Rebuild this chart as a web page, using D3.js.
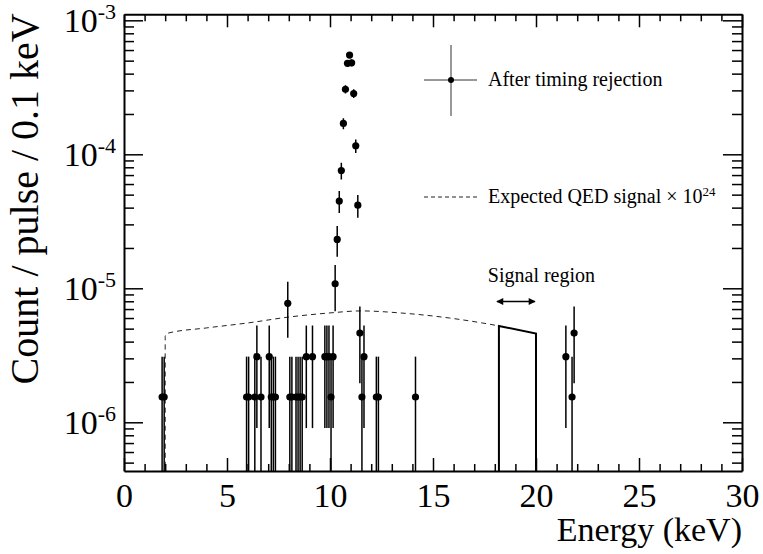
<!DOCTYPE html>
<html>
<head>
<meta charset="utf-8">
<script src="https://cdn.jsdelivr.net/npm/d3@7"></script>
<style>
  body { margin: 0; background: #fff; }
  svg text { font-family: "Liberation Serif", Tinos, "Times New Roman", Times, "DejaVu Serif", serif; fill: #000; }
</style>
</head>
<body>
<svg id="chart"></svg>
<script>
// bin centres in keV (0.1 keV bins) and raw counts per bin
const energy = [1.85, 1.95, 5.95, 6.05, 6.35, 6.45, 6.65, 7.05, 7.15, 7.25, 7.35, 7.95,
                8.05, 8.15, 8.35, 8.45, 8.55, 8.65, 8.85, 9.15, 9.75, 9.85, 9.95, 10.05, 10.15,
                10.25, 10.35, 10.45, 10.55, 10.65, 10.75, 10.85, 10.95, 11.05, 11.15, 11.25,
                11.35, 11.45, 11.55, 11.65, 12.25, 12.35, 14.15, 21.45, 21.75, 21.85];
const counts = [1, 1, 1, 1, 1, 2, 1, 2, 1, 1, 1, 5,
                1, 1, 1, 1, 1, 1, 2, 2, 2, 2, 2, 1, 2,
                7, 15, 29, 49, 110, 198, 309, 356, 312, 184, 75,
                27, 3, 1, 2, 1, 1, 1, 2, 1, 3];
const perCount = 1.545e-6;   // count / pulse / 0.1 keV for one event

// expected QED signal x 1e24
const qedEnergy = [2.0, 2.0, 2.1, 4, 6, 8, 10, 11.5, 13.4, 15.8, 17.4, 18.2];
const qedValue  = [4e-7, 4.4e-6, 4.61e-6, 5.06e-6, 5.51e-6, 6.1e-6, 6.55e-6, 6.78e-6, 6.55e-6, 6.0e-6, 5.51e-6, 5.24e-6];
const signalEnergy = [18.2, 20.0];
const signalValue  = [5.24e-6, 4.6e-6];

const xTicks = [0, 5, 10, 15, 20, 25, 30];
const yDecades = [-6, -5, -4, -3];

const W = 763, H = 554;
const margin = {top: 14.3, right: 21, bottom: 83, left: 124};
const serif = '"Liberation Serif", Tinos, "Times New Roman", Times, "DejaVu Serif", serif';

const svg = d3.select('#chart').attr('width', W).attr('height', H);

const x = d3.scaleLinear().domain([0, 30]).range([margin.left, W - margin.right]);
const y = d3.scaleLog().domain([4.33e-7, 1.109e-3]).range([H - margin.bottom, margin.top]);
const yMin = y.domain()[0];
const x0 = x.range()[0], x1 = x.range()[1];
const yB = y.range()[0], yT = y.range()[1];

svg.append('clipPath').attr('id', 'plotclip')
  .append('rect')
  .attr('x', x0).attr('y', yT)
  .attr('width', x1 - x0).attr('height', yB - yT);

const plot = svg.append('g').attr('clip-path', 'url(#plotclip)');

// QED curve: dashed outside the signal region, solid inside
const qedLine = d3.line()
  .x((d, i) => x(qedEnergy[i]))
  .y(d => y(d))
  .curve(d3.curveMonotoneX);

plot.append('path')
  .attr('d', qedLine(qedValue))
  .attr('fill', 'none')
  .attr('stroke', '#222')
  .attr('stroke-width', 1)
  .attr('stroke-dasharray', '5,4');

const sigLine = d3.line()
  .x(d => x(d[0]))
  .y(d => y(d[1]));

plot.append('path')
  .attr('d', sigLine([[signalEnergy[0], yMin], [signalEnergy[0], signalValue[0]],
                      [signalEnergy[1], signalValue[1]], [signalEnergy[1], yMin]]))
  .attr('fill', 'none')
  .attr('stroke', '#000')
  .attr('stroke-width', 2);

// data points with poisson errors
const pts = energy.map((e, i) => {
  const n = counts[i];
  return {
    e: e,
    v: n * perCount,
    lo: Math.max((n - Math.sqrt(n)) * perCount, yMin),
    hi: (n + Math.sqrt(n)) * perCount
  };
});

plot.selectAll('line.ey')
  .data(pts)
  .enter()
  .append('line')
  .attr('class', 'ey')
  .attr('x1', d => x(d.e)).attr('x2', d => x(d.e))
  .attr('y1', d => y(d.lo)).attr('y2', d => y(d.hi))
  .attr('stroke', '#000')
  .attr('stroke-width', 1.5);

plot.selectAll('line.ex')
  .data(pts)
  .enter()
  .append('line')
  .attr('class', 'ex')
  .attr('x1', d => x(d.e - 0.05)).attr('x2', d => x(d.e + 0.05))
  .attr('y1', d => y(d.v)).attr('y2', d => y(d.v))
  .attr('stroke', '#000')
  .attr('stroke-width', 1.5);

plot.selectAll('circle')
  .data(pts)
  .enter()
  .append('circle')
  .attr('cx', d => x(d.e))
  .attr('cy', d => y(d.v))
  .attr('r', 3.6)
  .attr('fill', '#000');

// axes, ROOT style ticks on all four sides
const xMinor = d3.range(0, 31, 1).filter(v => v % 5 !== 0);
const yMajor = yDecades.map(p => Math.pow(10, p));
const yMinor = [];
[-7, -6, -5, -4, -3].forEach(p => {
  for (let k = 2; k <= 9; k++) {
    const v = k * Math.pow(10, p);
    if (v > yMin && v < y.domain()[1]) yMinor.push(v);
  }
});

function styleAxis(g) {
  g.select('.domain').attr('stroke-width', 2);
  g.selectAll('.tick line').attr('stroke-width', 1.5);
}

svg.append('g')
  .attr('transform', `translate(0,${yB})`)
  .call(d3.axisBottom(x).tickValues(xTicks).tickSize(-13).tickSizeOuter(0).tickPadding(12))
  .call(styleAxis)
  .call(g => g.attr('font-family', serif).attr('font-size', 34))
  .call(g => g.selectAll('text').attr('font-family', serif).attr('font-size', '34px'));

svg.append('g')
  .attr('transform', `translate(0,${yB})`)
  .call(d3.axisBottom(x).tickValues(xMinor).tickSize(-7).tickFormat(''))
  .call(styleAxis)
  .call(g => g.select('.domain').remove());

svg.append('g')
  .attr('transform', `translate(0,${yT})`)
  .call(d3.axisTop(x).tickValues(xTicks).tickSize(-13).tickSizeOuter(0).tickFormat(''))
  .call(styleAxis);

svg.append('g')
  .attr('transform', `translate(0,${yT})`)
  .call(d3.axisTop(x).tickValues(xMinor).tickSize(-7).tickFormat(''))
  .call(styleAxis)
  .call(g => g.select('.domain').remove());

svg.append('g')
  .attr('transform', `translate(${x0},0)`)
  .call(d3.axisLeft(y).tickValues(yMajor).tickSize(-19).tickSizeOuter(0).tickFormat(''))
  .call(styleAxis);

svg.append('g')
  .attr('transform', `translate(${x0},0)`)
  .call(d3.axisLeft(y).tickValues(yMinor).tickSize(-10).tickFormat(''))
  .call(styleAxis)
  .call(g => g.select('.domain').remove());

svg.append('g')
  .attr('transform', `translate(${x1},0)`)
  .call(d3.axisRight(y).tickValues(yMajor).tickSize(-19).tickSizeOuter(0).tickFormat(''))
  .call(styleAxis);

svg.append('g')
  .attr('transform', `translate(${x1},0)`)
  .call(d3.axisRight(y).tickValues(yMinor).tickSize(-10).tickFormat(''))
  .call(styleAxis)
  .call(g => g.select('.domain').remove());

// y tick labels 10^n
const yLab = svg.append('g').selectAll('text')
  .data(yDecades)
  .enter()
  .append('text')
  .attr('x', x0 - 8)
  .attr('y', d => y(Math.pow(10, d)) + 12)
  .attr('text-anchor', 'end')
  .attr('font-family', serif)
  .attr('font-size', '34px');
yLab.append('tspan').text('10');
yLab.append('tspan').attr('dy', -13).attr('font-size', '22px').text(d => d);

// axis titles
svg.append('text')
  .attr('x', x1)
  .attr('y', 541)
  .attr('text-anchor', 'end')
  .attr('font-family', serif)
  .attr('font-size', '34px')
  .text('Energy (keV)');

svg.append('text')
  .attr('transform', `translate(38,${yT - 1}) rotate(-90)`)
  .attr('text-anchor', 'end')
  .attr('font-family', serif)
  .attr('font-size', '40px')
  .text('Count / pulse / 0.1 keV');

// legend
const leg = svg.append('g');
leg.append('line').attr('x1', 451).attr('x2', 451).attr('y1', 45).attr('y2', 116)
  .attr('stroke', '#333').attr('stroke-width', 1);
leg.append('line').attr('x1', 424).attr('x2', 477).attr('y1', 80).attr('y2', 80)
  .attr('stroke', '#333').attr('stroke-width', 1);
leg.append('circle').attr('cx', 451).attr('cy', 80).attr('r', 3).attr('fill', '#000');
leg.append('text').attr('x', 488).attr('y', 86).attr('font-size', '20px')
  .attr('font-family', serif)
  .text('After timing rejection');

leg.append('line').attr('x1', 424).attr('x2', 477).attr('y1', 197).attr('y2', 197)
  .attr('stroke', '#222').attr('stroke-width', 1).attr('stroke-dasharray', '4,3');
const qedLab = leg.append('text').attr('x', 488).attr('y', 203).attr('font-size', '20px')
  .attr('font-family', serif);
qedLab.append('tspan').text('Expected QED signal \u00d7 10');
qedLab.append('tspan').attr('dy', -7).attr('font-size', '13px').text('24');

// signal region marker
const sx0 = x(signalEnergy[0]) - 2, sx1 = x(signalEnergy[1]);
svg.append('text')
  .attr('x', (sx0 + sx1) / 2 + 25)
  .attr('y', 282)
  .attr('text-anchor', 'middle')
  .attr('font-family', serif)
  .attr('font-size', '20px')
  .text('Signal region');

svg.append('defs').selectAll('marker')
  .data(['arrEnd', 'arrStart'])
  .enter()
  .append('marker')
  .attr('id', d => d)
  .attr('viewBox', '0 0 10 10')
  .attr('refX', 9).attr('refY', 5)
  .attr('markerWidth', 9).attr('markerHeight', 7)
  .attr('markerUnits', 'userSpaceOnUse')
  .attr('orient', d => d === 'arrEnd' ? 'auto' : 'auto-start-reverse')
  .append('path')
  .attr('d', 'M0,0 L10,5 L0,10 z')
  .attr('fill', '#000');

svg.append('line')
  .attr('x1', sx0).attr('x2', sx1 - 1)
  .attr('y1', 301.5).attr('y2', 301.5)
  .attr('stroke', '#000').attr('stroke-width', 1.5)
  .attr('marker-start', 'url(#arrStart)')
  .attr('marker-end', 'url(#arrEnd)');
</script>
</body>
</html>
